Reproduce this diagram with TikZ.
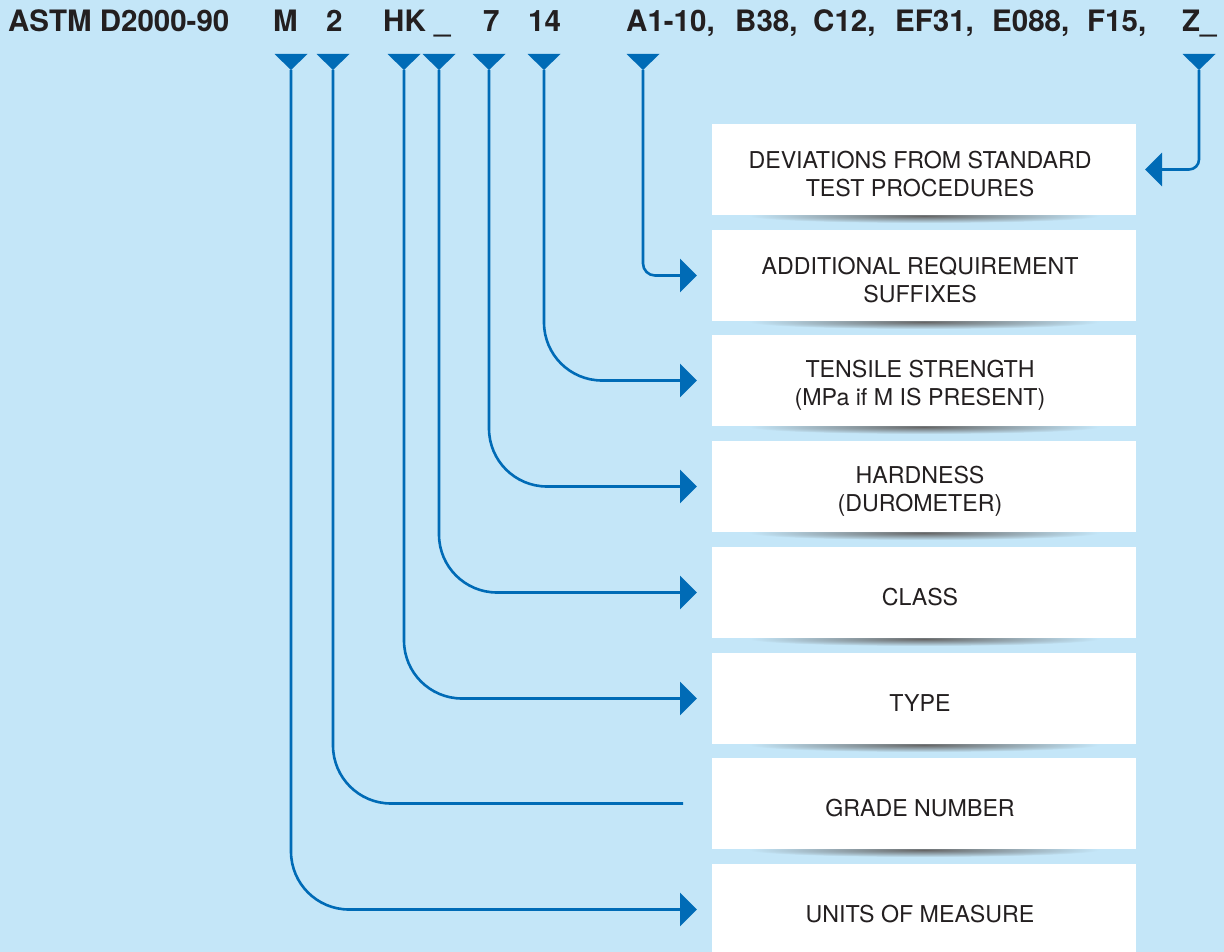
\documentclass[tikz,border=0pt]{standalone}
\usepackage{fontspec}
\setmainfont{TeX Gyre Heros}
\usepackage{tikz}
\usetikzlibrary{arrows,arrows.meta,backgrounds}
\definecolor{bgblue}{HTML}{C4E6F8}
\definecolor{lineblue}{HTML}{006BB6}
\definecolor{inkgray}{HTML}{231F20}
\newcommand{\tri}[1]{\fill[lineblue] (#1) -- ++(-16.5,-16) -- ++(33,0) -- cycle;}
\newcommand{\shadowunder}[1]{\shade[inner color=black!60, outer color=bgblue] ([yshift=-1pt]#1.south) ellipse [x radius=175, y radius=7];}

\begin{document}
\begin{tikzpicture}[x=1pt, y=-1pt,
    code/.style = {anchor=base west, inner sep=0pt, text=inkgray,
      font=\fontsize{29.5}{31}\selectfont\bfseries},
    boxtext/.style = {align=center, text=inkgray, inner sep=0pt,
      xshift=-4pt, yshift=-5pt, font=\fontsize{23.2}{28}\selectfont},
    infobox/.style = {fill=white, minimum width=424pt, minimum height=91pt,
      inner sep=0pt, outer sep=0pt, label={[boxtext]center:{#1}}},
    conn/.style = {draw=lineblue, line width=2.6pt, rounded corners=58pt},
    tip/.style = {-{Triangle[length=17pt, width=33pt]}, shorten >=15pt}]
  \useasboundingbox (0,0) rectangle (1224,952);

  % designation line
  \node[code] (astm) at (8,32) {ASTM D2000-90};
  \node[code] (cM) at (273,32) {M};
  \node[code] (c2) at (326,32) {2};
  \node[code] (cHK) at (383,32) {HK};
  \node[code] (cU) at (434,32) {\_};
  \node[code] (c7) at (483,32) {7};
  \node[code] (c14) at (528,32) {14};
  \node[code] (cA) at (626,32) {A1-10,};
  \node[code] (cB) at (735,32) {B38,};
  \node[code] (cC) at (813,32) {C12,};
  \node[code] (cEF) at (895,32) {EF31,};
  \node[code] (cE) at (992,32) {E088,};
  \node[code] (cF) at (1087,32) {F15,};
  \node[code] (cZ) at (1182,32) {Z\_};

  % markers under the code
  \coordinate (tM) at (291,70);
  \coordinate (t2) at (333,70);
  \coordinate (tHK) at (404,70);
  \coordinate (tU) at (439,70);
  \coordinate (t7) at (489,70);
  \coordinate (t14) at (544,70);
  \coordinate (tA) at (643,70);
  \coordinate (tZ) at (1199,70);

  % boxes
  \node[infobox={DEVIATIONS FROM STANDARD\\TEST PROCEDURES}] (dev) at (924,169.5) {};
  \node[infobox={ADDITIONAL REQUIREMENT\\SUFFIXES}] (addl) at (924,275.5) {};
  \node[infobox={TENSILE STRENGTH\\(MPa if M IS PRESENT)}] (tens) at (924,380.5) {};
  \node[infobox={HARDNESS\\(DUROMETER)}] (hard) at (924,486.5) {};
  \node[infobox={CLASS}] (cls) at (924,592.5) {};
  \node[infobox={TYPE}] (typ) at (924,698.5) {};
  \node[infobox={GRADE NUMBER}] (grade) at (924,803.5) {};
  \node[infobox={UNITS OF MEASURE}] (units) at (924,909.5) {};

  \begin{pgfonlayer}{background}
    \fill[bgblue] (0,0) rectangle (1224,952);
    \shadowunder{dev}
    \shadowunder{addl}
    \shadowunder{tens}
    \shadowunder{hard}
    \shadowunder{cls}
    \shadowunder{typ}
    \shadowunder{grade}
  \end{pgfonlayer}

  % connectors
  \draw[conn, tip] (tM) |- (units.west);
  \draw[conn, shorten >=29pt] (t2) |- (grade.west);
  \draw[conn, tip] (tHK) |- (typ.west);
  \draw[conn, tip] (tU) |- (cls.west);
  \draw[conn, tip] (t7) |- (hard.west);
  \draw[conn, tip] (t14) |- (tens.west);
  \draw[conn, tip, rounded corners=12pt] (tA) |- (addl.west);
  \draw[conn, -{Triangle[length=17pt, width=33pt]}, shorten >=9pt,
    rounded corners=10pt] (tZ) |- (dev.east);

  \tri{tM} \tri{t2} \tri{tHK} \tri{tU} \tri{t7} \tri{t14} \tri{tA} \tri{tZ}
\end{tikzpicture}
\end{document}
